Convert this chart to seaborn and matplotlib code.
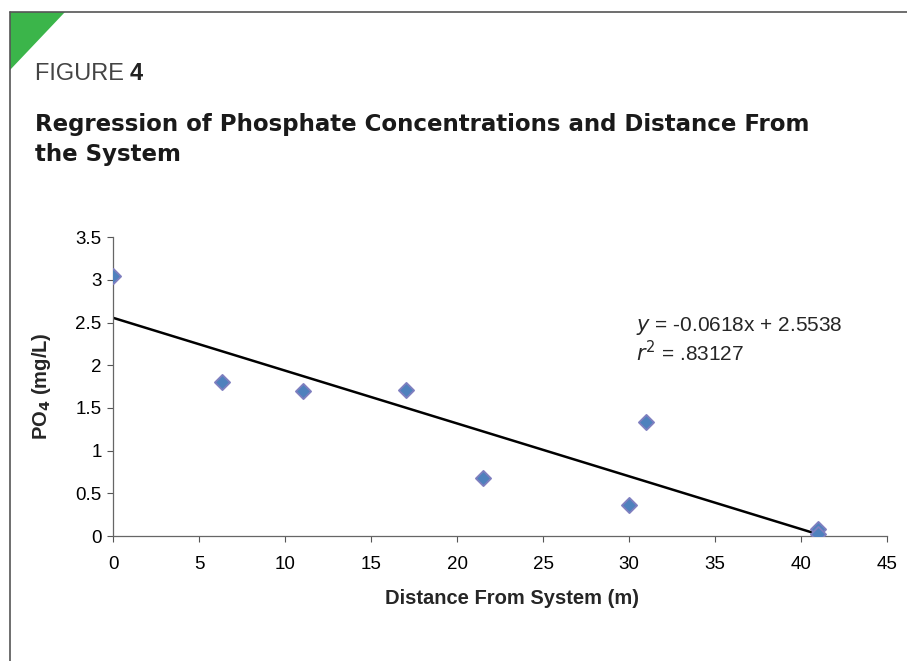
import matplotlib
matplotlib.use("Agg")
import matplotlib.pyplot as plt
from matplotlib.lines import Line2D
from matplotlib.patches import Polygon
import numpy as np
import pandas as pd
import seaborn as sns

# Data
distance_m = [0, 6.3, 11.0, 17.0, 21.5, 30.0, 31.0, 41.0, 41.0]
po4_mg_l = [3.05, 1.80, 1.70, 1.71, 0.68, 0.36, 1.33, 0.08, 0.02]
slope = -0.0618
intercept = 2.5538
x_ticks = [0, 5, 10, 15, 20, 25, 30, 35, 40, 45]
y_ticks = [0, 0.5, 1, 1.5, 2, 2.5, 3, 3.5]
y_tick_labels = ["0", "0.5", "1", "1.5", "2", "2.5", "3", "3.5"]

df = pd.DataFrame({"distance": distance_m, "po4": po4_mg_l})
xr = np.array([min(distance_m), max(distance_m)])
fit = pd.DataFrame({"distance": xr, "po4": intercept + slope * xr})

sns.set_theme(style="ticks")
plt.rcParams["font.family"] = ["Liberation Sans", "DejaVu Sans"]

fig = plt.figure(figsize=(9.07, 6.61), dpi=100)
ax = fig.add_axes([0.1251, 0.189, 0.8528, 0.4523])

sns.lineplot(data=fit, x="distance", y="po4", color="black", linewidth=1.8, ax=ax)
sns.scatterplot(data=df, x="distance", y="po4", marker="D", s=60,
                color="#4F81BD", edgecolor="#7F7FBF", linewidth=1.3, ax=ax, zorder=3)

ax.set_xlim(0, 45)
ax.set_ylim(0, 3.5)
ax.set_xticks(x_ticks)
ax.set_xticklabels([str(t) for t in x_ticks])
ax.set_yticks(y_ticks)
ax.set_yticklabels(y_tick_labels)
ax.tick_params(axis="x", labelsize=13.5, length=4, width=0.8, color="#555555",
               labelcolor="black", pad=10)
ax.tick_params(axis="y", labelsize=13.5, length=4.5, width=0.8, color="#555555",
               labelcolor="black", pad=4)
for s in ["top", "right"]:
    ax.spines[s].set_visible(False)
for s in ["left", "bottom"]:
    ax.spines[s].set_color("#666666")
    ax.spines[s].set_linewidth(0.9)
for sp in ax.spines.values():
    sp.set_clip_on(False)

ax.set_xlabel("Distance From System (m)", fontsize=14.5, fontweight="bold")
ax.xaxis.set_label_coords(0.515, -0.177)
ax.set_ylabel("PO$_\\mathbf{4}$ (mg/L)", fontsize=14.5, fontweight="bold")
ax.yaxis.set_label_coords(-0.078, 0.5)

fig.text(636/907, 1 - 326/661, "$y$ = -0.0618x + 2.5538",
         fontsize=15, ha="left", va="center")
fig.text(636/907, 1 - 353/661, "$r^2$ = .83127",
         fontsize=15, ha="left", va="center")

# Frame and green corner
fig.add_artist(Line2D([10/907, 10/907], [1 - 12/661, 0], transform=fig.transFigure,
                      color="#555555", linewidth=1.2))
fig.add_artist(Line2D([10/907, 1], [1 - 12/661, 1 - 12/661], transform=fig.transFigure,
                      color="#555555", linewidth=1.2))
fig.add_artist(Polygon([[10/907, 1 - 12/661], [65/907, 1 - 12/661], [10/907, 1 - 70/661]],
                       closed=True, transform=fig.transFigure, facecolor="#3BB54A",
                       edgecolor="none"))

fig.text(35/907, 1 - 74/661, "FIGURE ", fontsize=17, color="#444444",
         fontweight="light", ha="left", va="center")
fig.text(130/907, 1 - 74/661, "4", fontsize=17, color="#222222",
         fontweight="bold", ha="left", va="center")
fig.text(35/907, 1 - 125/661, "Regression of Phosphate Concentrations and Distance From",
         fontsize=16.5, fontweight="bold", color="#1a1a1a", ha="left", va="center",
         family="DejaVu Sans")
fig.text(35/907, 1 - 155/661, "the System",
         fontsize=16.5, fontweight="bold", color="#1a1a1a", ha="left", va="center",
         family="DejaVu Sans")

fig.savefig("out.png", dpi=100)
